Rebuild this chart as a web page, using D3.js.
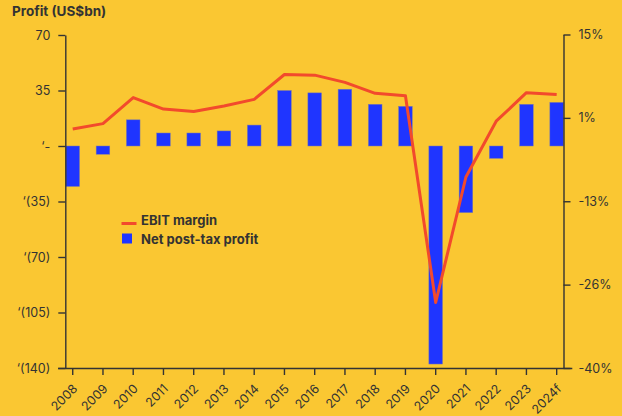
<!DOCTYPE html>
<html>
<head>
<meta charset="utf-8">
<script src="https://cdn.jsdelivr.net/npm/d3@7"></script>
<style>
  html, body { margin: 0; padding: 0; background: #fac732; }
  svg { display: block; font-family: Inter, "Noto Sans", sans-serif; }
</style>
</head>
<body>
<div id="chart"></div>
<script>
const years = ['2008', '2009', '2010', '2011', '2012', '2013', '2014', '2015', '2016',
    '2017', '2018', '2019', '2020', '2021', '2022', '2023', '2024f']

// net post-tax profit, US$bn
const profit = [-25.5, -5.2, 16.5, 8.2, 8.2, 9.5, 13.2, 35.0, 33.5, 35.8, 26.3, 25.0,
    -137.5, -42.0, -7.8, 26.3, 27.5]

// EBIT margin, %
const ebit = [-0.6, 0.3, 4.6, 2.7, 2.3, 3.2, 4.3, 8.4, 8.3, 7.1, 5.3, 4.9,
    -29.2, -8.5, 0.7, 5.4, 5.1]

const leftTicks = [70, 35, 0, -35, -70, -105, -140]
const leftLabels = ['70', '35', '\u2018-', '\u2018(35)', '\u2018(70)', '\u2018(105)', '\u2018(140)']
const rightTicks = [15, 1.25, -12.5, -26.25, -40]
const rightLabels = ['15%', '1%', '-13%', '-26%', '-40%']

const w = 622
const h = 416
const ink = '#333333'

const svg = d3.select('#chart')
    .append('svg')
    .attr('width', w)
    .attr('height', h)

svg.append('rect')
    .attr('width', w)
    .attr('height', h)
    .attr('fill', '#fac732')

// scales
const xScale = d3.scaleBand()
    .domain(years)
    .range([57.6, 571.8])
    .paddingInner(0.55)
    .paddingOuter(0.275)

const yLeft = d3.scaleLinear()
    .domain([-140, 70])
    .range([368, 35])

const yRight = d3.scaleLinear()
    .domain([-40, 15])
    .range([368, 34.5])

const xLeftAxis = 65.3
const xRightAxis = 563.5
const cx = (d) => xScale(d) + xScale.bandwidth() / 2

// title
svg.append('text')
    .attr('x', 12)
    .attr('y', 16)
    .attr('fill', ink)
    .attr('font-size', 13.5)
    .attr('font-weight', 700)
    .text('Profit (US$bn)')

// bars
svg.selectAll('rect.bar')
    .data(profit)
    .enter()
    .append('rect')
    .attr('class', 'bar')
    .attr('x', (d, i) => xScale(years[i]))
    .attr('width', xScale.bandwidth())
    .attr('y', (d) => yLeft(Math.max(0, d)))
    .attr('height', (d) => Math.abs(yLeft(d) - yLeft(0)))
    .attr('fill', '#1f35ff')
    .attr('stroke', '#7a7aa8')
    .attr('stroke-width', 0.5)

// ebit line
const line = d3.line()
    .x((d, i) => cx(years[i]))
    .y((d) => yRight(d))

svg.append('path')
    .datum(ebit)
    .attr('d', line)
    .attr('fill', 'none')
    .attr('stroke', '#f24a2c')
    .attr('stroke-width', 3)
    .attr('stroke-linejoin', 'round')

// left axis
const leftAxis = d3.axisLeft(yLeft)
    .tickValues(leftTicks)
    .tickFormat((d, i) => leftLabels[i])
    .tickSize(7)
    .tickSizeOuter(0)
    .tickPadding(8)

const gl = svg.append('g')
    .attr('transform', `translate(${xLeftAxis},0)`)
    .call(leftAxis)

// right axis
const rightAxis = d3.axisRight(yRight)
    .tickValues(rightTicks)
    .tickFormat((d, i) => rightLabels[i])
    .tickSize(7)
    .tickSizeOuter(0)
    .tickPadding(8)

const gr = svg.append('g')
    .attr('transform', `translate(${xRightAxis},0)`)
    .call(rightAxis)

// bottom axis
const bottomAxis = d3.axisBottom(xScale)
    .tickSize(7)
    .tickSizeOuter(0)

const gb = svg.append('g')
    .attr('transform', 'translate(0,368)')
    .call(bottomAxis)

gb.selectAll('text')
    .attr('text-anchor', 'end')
    .attr('transform', 'translate(5.5,21.5) rotate(-45)')
    .attr('dy', 0)
    .attr('y', 0)

for (const g of [gl, gr, gb]) {
    g.selectAll('path, line').attr('stroke', ink).attr('stroke-width', 1.4)
    g.selectAll('text').attr('fill', ink).attr('font-size', 12.5)
        .attr('font-family', 'Inter, "Noto Sans", sans-serif')
}

// legend
const legend = svg.append('g')
    .attr('font-size', 13)
    .attr('font-weight', 700)
    .attr('fill', ink)

legend.append('line')
    .attr('x1', 121.5).attr('x2', 136.5)
    .attr('y1', 223.5).attr('y2', 223.5)
    .attr('stroke', '#f24a2c')
    .attr('stroke-width', 3)

legend.append('text')
    .attr('x', 141)
    .attr('y', 225)
    .text('EBIT margin')

legend.append('rect')
    .attr('x', 122).attr('y', 233.5)
    .attr('width', 10).attr('height', 10)
    .attr('fill', '#1f35ff')

legend.append('text')
    .attr('x', 141)
    .attr('y', 244)
    .text('Net post-tax profit')
</script>
</body>
</html>
